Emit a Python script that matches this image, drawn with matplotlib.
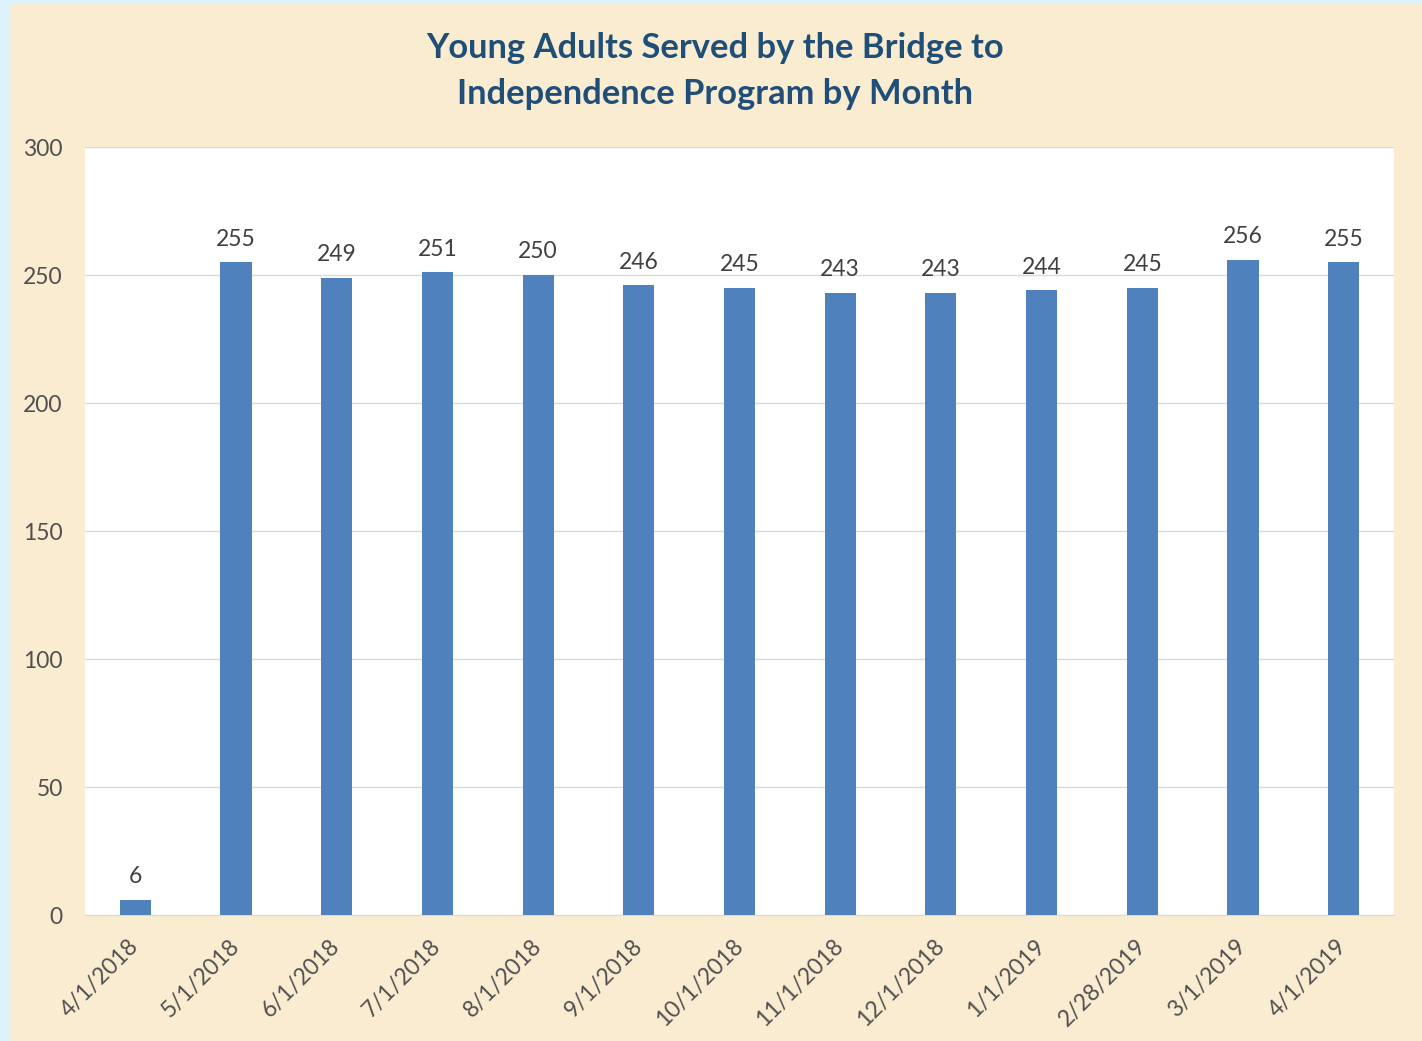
import matplotlib.pyplot as plt
from matplotlib.patches import Rectangle

# monthly counts
months = ["4/1/2018", "5/1/2018", "6/1/2018", "7/1/2018", "8/1/2018",
          "9/1/2018", "10/1/2018", "11/1/2018", "12/1/2018", "1/1/2019",
          "2/28/2019", "3/1/2019", "4/1/2019"]
served = [6, 255, 249, 251, 250, 246, 245, 243, 243, 244, 245, 256, 255]
yticks = [0, 50, 100, 150, 200, 250, 300]

plt.rcParams['font.family'] = ['Lato', 'DejaVu Sans']

fig = plt.figure(figsize=(14.22, 10.41), dpi=100, facecolor="#F9ECD1")
# light blue frame on the left / top edges
fig.patches.append(Rectangle((0, 0), 9 / 1422, 1, transform=fig.transFigure,
                             color="#DDF3FB", zorder=0))
fig.patches.append(Rectangle((0, 1 - 3 / 1041), 1, 3 / 1041, transform=fig.transFigure,
                             color="#DDF3FB", zorder=0))

ax = fig.add_axes([85 / 1422, 1 - 915 / 1041, (1394 - 85) / 1422, (915 - 147) / 1041])
ax.set_facecolor("white")

x = range(len(months))
bars = ax.bar(x, served, width=0.31, color="#4F81BD", zorder=3)

for xi, v in zip(x, served):
    ax.annotate(str(v), (xi, v), xytext=(0, 9), textcoords="offset points",
                ha="center", va="bottom", fontsize=16.5, color="#404040")

ax.set_xlim(-0.5, len(months) - 0.5)
ax.set_ylim(0, 300)
ax.set_yticks(yticks)
ax.yaxis.grid(True, color="#D9D9D9", linewidth=1, zorder=0)
ax.set_axisbelow(True)

for s in ["left", "right", "top"]:
    ax.spines[s].set_visible(False)
ax.spines["bottom"].set_color("#D9D9D9")

ax.tick_params(axis="both", length=0, labelsize=16.5, labelcolor="#505050")
ax.tick_params(axis="y", pad=16)
ax.set_xticks(list(x))
ax.set_xticklabels(months, rotation=45, ha="right", va="center",
                   rotation_mode="anchor")
ax.tick_params(axis="x", pad=20)

fig.text(0.503, 1 - 71 / 1041,
         "Young Adults Served by the Bridge to\nIndependence Program by Month",
         ha="center", va="center", fontsize=24.8, fontweight="bold",
         color="#1F4E79", linespacing=1.55)

fig.savefig("out.png", dpi=100, facecolor=fig.get_facecolor())
